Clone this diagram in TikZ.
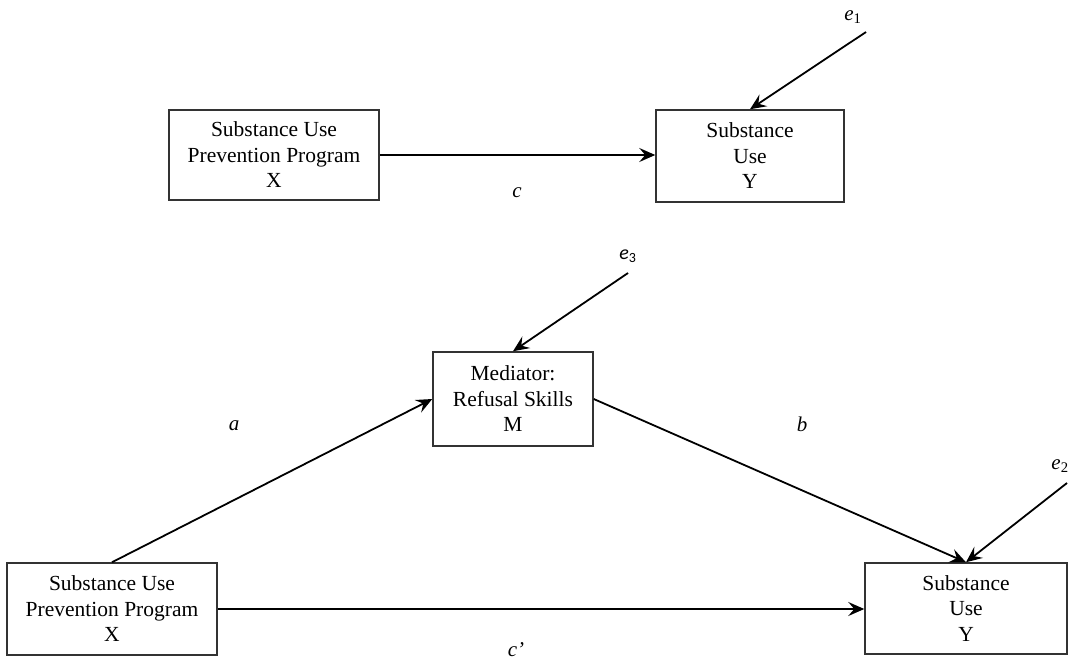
\documentclass[tikz,border=0pt]{standalone}
\usepackage{fontspec}
\setmainfont{Liberation Serif}
\newfontfamily\calib{Carlito}
\usetikzlibrary{arrows.meta}
\tikzset{
  varbox/.style={draw=black!80, line width=1.5pt, align=center, inner sep=0pt,
    font=\fontsize{21.5}{25.5}\selectfont},
  path/.style={line width=1.8pt, -{Stealth[length=16pt,width=14pt,inset=6pt]}},
  coef/.style={font=\fontsize{21}{24}\selectfont\itshape},
}
\begin{document}
\begin{tikzpicture}[x=1pt,y=-1pt]
\useasboundingbox (0,0) rectangle (1073,664);

% total effect model
\node[varbox, minimum width=210pt, minimum height=90pt] (X1) at (274,155)
  {Substance Use\\Prevention Program\\X};
\node[varbox, minimum width=188pt, minimum height=92pt] (Y1) at (750,156)
  {Substance\\Use\\Y};
\coordinate (e1s) at (866,32);
\node[coef] (e1) at (853,17) {e\textsubscript{\upshape 1}};
\draw[path] (X1.east) -- (X1.east -| Y1.west);
\draw[path] (e1s) -- (Y1.north);
\node[coef] (c) at (517,193) {c};

% mediation model
\node[varbox, minimum width=160pt, minimum height=94pt] (M) at (513,399)
  {Mediator:\\Refusal Skills\\M};
\node[varbox, minimum width=210pt, minimum height=92pt] (X2) at (112,609)
  {Substance Use\\Prevention Program\\X};
\node[varbox, minimum width=202pt, minimum height=91pt] (Y2) at (966,608.5)
  {Substance\\Use\\Y};
\coordinate (e3s) at (628,273);
\coordinate (e2s) at (1067,483);
\node[font=\fontsize{20}{23}\selectfont\calib\itshape] (e3) at (628,256) {e\textsubscript{\upshape 3}};
\node[coef] (e2) at (1060,466) {e\textsubscript{\upshape 2}};

\draw[path] (X2.north) -- (M.west);
\draw[path] (M.east) -- (Y2.north);
\draw[path] (X2.east) -- (X2.east -| Y2.west);
\draw[path] (e3s) -- (M.north);
\draw[path] (e2s) -- (Y2.north);

\node[coef] (a) at (234,426) {a};
\node[coef] (b) at (802,424) {b};
\node[coef] (cp) at (516,650) {c’};
\end{tikzpicture}
\end{document}
